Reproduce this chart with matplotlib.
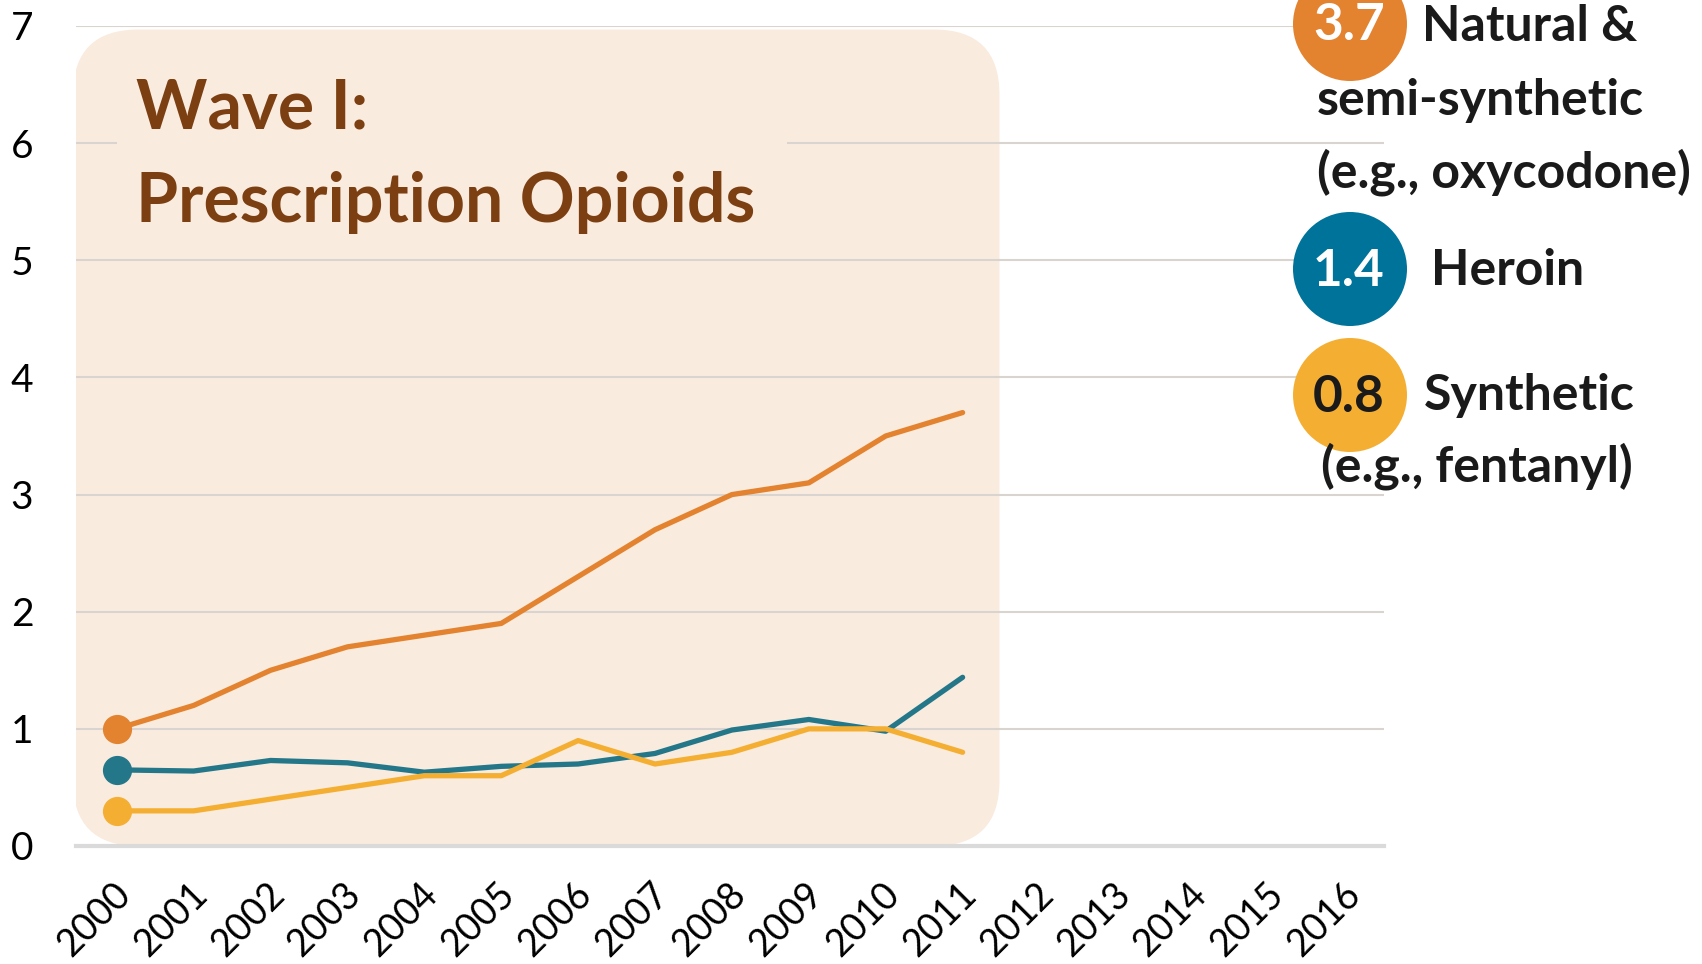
#Opioid overdose deaths, wave I chart
import matplotlib
matplotlib.use("Agg")
import matplotlib.pyplot as plt
from matplotlib.patches import FancyBboxPatch, Circle, Rectangle
from matplotlib.transforms import IdentityTransform, ScaledTranslation

#data
years = list(range(2000, 2017))
data_years = list(range(2000, 2012))
natural = [1.0, 1.2, 1.5, 1.7, 1.8, 1.9, 2.3, 2.7, 3.0, 3.1, 3.5, 3.7]
heroin = [0.65, 0.64, 0.73, 0.71, 0.63, 0.68, 0.70, 0.79, 0.99, 1.08, 0.98, 1.44]
synthetic = [0.3, 0.3, 0.4, 0.5, 0.6, 0.6, 0.9, 0.7, 0.8, 1.0, 1.0, 0.8]
latest = ["3.7", "1.4", "0.8"]

c_orange = "#E3832F"
c_teal = "#247789"
c_teal_dot = "#00739A"
c_yellow = "#F4AF33"
c_bg = "#FAEBDF"
c_title = "#7B3F12"

plt.rcParams["font.family"] = ["Lato", "DejaVu Sans"]

W, H = 1702, 964
fig = plt.figure(figsize=(W / 100, H / 100), dpi=100)
ax = fig.add_axes([76 / W, 1 - 846 / H, (1384 - 76) / W, (846 - 26) / H])

ax.set_xlim(1999.47, 2016.48)
ax.set_ylim(0, 7)

#shaded box behind wave I
px_x = (1384 - 76) / (2016.48 - 1999.47)
px_y = (846 - 26) / 7
box = FancyBboxPatch((1999.43, 0), 2011.48 - 1999.43, 6.97,
                     boxstyle="round,pad=0,rounding_size=0.85",
                     mutation_aspect=px_x / px_y,
                     facecolor=c_bg, edgecolor="none", zorder=0.1)
ax.add_patch(box)

ax.set_axisbelow(True)
ax.yaxis.grid(True, color="#D9D4CF", linewidth=1.5, zorder=0.5)
ax.set_yticks(range(0, 8))
ax.set_xticks(years)
for s in ["top", "right", "left"]:
    ax.spines[s].set_visible(False)
ax.spines["bottom"].set_color("#DADADA")
ax.spines["bottom"].set_linewidth(3)
ax.tick_params(length=0)
ax.tick_params(axis="y", labelsize=28, pad=47)
for lbl in ax.get_yticklabels():
    lbl.set_horizontalalignment("left")
ax.tick_params(axis="x", labelsize=27, pad=31)
ax.set_xticklabels([str(y) for y in years], rotation=45, ha="right",
                   va="center", rotation_mode="anchor")
for lbl in ax.get_xticklabels():
    lbl.set_transform(lbl.get_transform() + ScaledTranslation(0.08, 0, fig.dpi_scale_trans))

ax.plot(data_years, natural, color=c_orange, lw=3.8, zorder=3, solid_capstyle="round")
ax.plot(data_years, heroin, color=c_teal, lw=3.8, zorder=3, solid_capstyle="round")
ax.plot(data_years, synthetic, color=c_yellow, lw=3.8, zorder=4, solid_capstyle="round")
ax.plot(data_years[0], natural[0], "o", color=c_orange, ms=20, zorder=5)
ax.plot(data_years[0], heroin[0], "o", color=c_teal, ms=20, zorder=5)
ax.plot(data_years[0], synthetic[0], "o", color=c_yellow, ms=20, zorder=5)

def fx(x):
    return x / W

def fy(y):
    return 1 - y / H

#title with its own patch hiding the grid lines
fig.add_artist(Rectangle((117, H - 257), 787 - 117, 257 - 54,
                         transform=IdentityTransform(), facecolor=c_bg,
                         edgecolor="none", zorder=1))
fig.text(fx(136), fy(222), "Wave I:\nPrescription Opioids", fontsize=49,
         fontweight="bold", color=c_title, ha="left", va="baseline",
         linespacing=1.6, zorder=2)

#legend circles on the right
circ_y = [24, 269, 395]
circ_c = [c_orange, c_teal_dot, c_yellow]
num_c = ["white", "white", "#1A1A1A"]
for cy, cc, val, nc in zip(circ_y, circ_c, latest, num_c):
    fig.add_artist(Circle((1350, H - cy), 57, transform=IdentityTransform(),
                          facecolor=cc, edgecolor="none", zorder=1))
    fig.text(fx(1349), fy(cy + 2), val, fontsize=37, fontweight="bold",
             color=nc, ha="center", va="center", zorder=2)

lab = dict(fontsize=36, fontweight="bold", color="#1A1A1A", ha="left",
           va="baseline", zorder=3)
fig.text(fx(1422), fy(41), "Natural &", **lab)
fig.text(fx(1317), fy(115), "semi-synthetic", **lab)
fig.text(fx(1317), fy(187), "(e.g., oxycodone)", **lab)
fig.text(fx(1431), fy(285), "Heroin", **lab)
fig.text(fx(1424), fy(410), "Synthetic", **lab)
fig.text(fx(1321), fy(481), "(e.g., fentanyl)", **lab)

fig.savefig("out.png", dpi=100)
